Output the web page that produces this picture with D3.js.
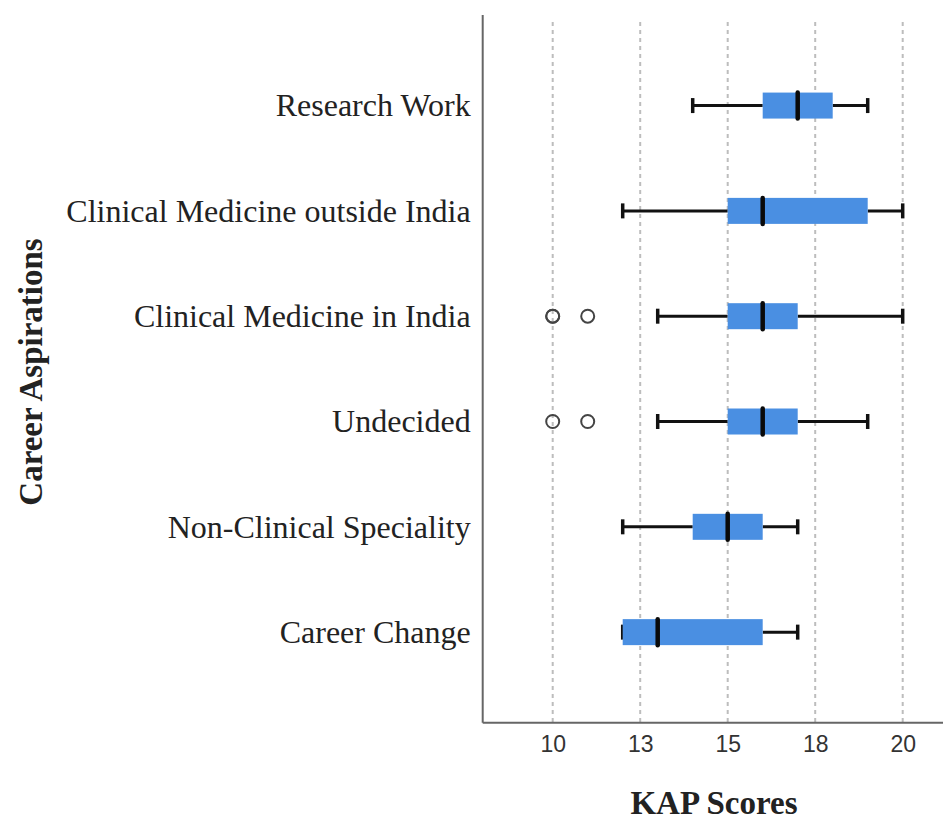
<!DOCTYPE html>
<html>
<head>
<meta charset="utf-8">
<script src="https://cdn.jsdelivr.net/npm/d3@7"></script>
<style>
  html, body { margin: 0; padding: 0; background: #fff; }
  svg { display: block; }
</style>
</head>
<body>
<svg id="chart" width="943" height="821"></svg>
<script>
// ---- Data ----
const categories = ["Research Work", "Clinical Medicine outside India", "Clinical Medicine in India",
                    "Undecided", "Non-Clinical Speciality", "Career Change"];
const whiskerLow  = [14, 12, 13, 13, 12, 12];
const q1          = [16, 15, 15, 15, 14, 12];
const medians     = [17, 16, 16, 16, 15, 13];
const q3          = [18, 19, 17, 17, 16, 16];
const whiskerHigh = [19, 20, 20, 19, 17, 17];
const outliers    = [[], [], [10, 10, 11], [10, 11], [], []];
const tickValues  = [10, 12.5, 15, 17.5, 20];
const tickLabels  = ["10", "13", "15", "18", "20"];
const xTitle = "KAP Scores";
const yTitle = "Career Aspirations";

// ---- Layout ----
const svg = d3.select("#chart");
const pLeft = 482.7, pRight = 937.7, pTop = 15, pBottom = 722.7;

const x = d3.scaleLinear().domain([8, 21]).range([pLeft, pRight]);
const y = d3.scalePoint().domain(categories).range([pTop, pBottom]).padding(0.86);

const boxH = 26, capH = 15;

// gridlines
svg.append("g").selectAll("line").data(tickValues).join("line")
  .attr("x1", d => x(d)).attr("x2", d => x(d))
  .attr("y1", 22).attr("y2", pBottom)
  .attr("stroke", "#bdbdbd").attr("stroke-width", 2)
  .attr("stroke-dasharray", "4,4");

// x axis
const xAxis = d3.axisBottom(x).tickValues(tickValues)
  .tickFormat((d, i) => tickLabels[i]).tickSize(0).tickPadding(13);
const gx = svg.append("g").attr("transform", `translate(0,${pBottom})`).call(xAxis);
gx.select(".domain").remove();
gx.selectAll("text").attr("font-family", "Liberation Sans, Arial, sans-serif")
  .attr("font-size", 23).attr("fill", "#333");

// y axis
const yAxis = d3.axisLeft(y).tickSize(0).tickPadding(12);
const gy = svg.append("g").attr("transform", `translate(${pLeft},0)`).call(yAxis);
gy.select(".domain").remove();
gy.selectAll("text").attr("font-family", "Liberation Serif, Times New Roman, serif")
  .attr("font-size", 32).attr("fill", "#222");

// axis lines
svg.append("line").attr("x1", pLeft).attr("x2", pLeft).attr("y1", pTop).attr("y2", pBottom)
  .attr("stroke", "#666").attr("stroke-width", 2);
svg.append("line").attr("x1", pLeft).attr("x2", pRight + 6).attr("y1", pBottom).attr("y2", pBottom)
  .attr("stroke", "#666").attr("stroke-width", 2);

// boxes
const rows = categories.map((c, i) => ({
  c, lo: whiskerLow[i], q1: q1[i], med: medians[i], q3: q3[i], hi: whiskerHigh[i], out: outliers[i]
}));
const g = svg.append("g");
const row = g.selectAll("g.row").data(rows).join("g").attr("class", "row")
  .attr("transform", d => `translate(0,${y(d.c)})`);

// whiskers
row.append("line").attr("x1", d => x(d.lo)).attr("x2", d => x(d.q1))
  .attr("y1", 0).attr("y2", 0).attr("stroke", "#111").attr("stroke-width", 3);
row.append("line").attr("x1", d => x(d.q3)).attr("x2", d => x(d.hi))
  .attr("y1", 0).attr("y2", 0).attr("stroke", "#111").attr("stroke-width", 3);
row.append("line").attr("x1", d => x(d.lo)).attr("x2", d => x(d.lo))
  .attr("y1", -capH / 2).attr("y2", capH / 2).attr("stroke", "#111").attr("stroke-width", 3.5);
row.append("line").attr("x1", d => x(d.hi)).attr("x2", d => x(d.hi))
  .attr("y1", -capH / 2).attr("y2", capH / 2).attr("stroke", "#111").attr("stroke-width", 3.5);

// box
row.append("rect").attr("x", d => x(d.q1)).attr("width", d => x(d.q3) - x(d.q1))
  .attr("y", -boxH / 2).attr("height", boxH).attr("fill", "#4a8fe2");

// median
row.append("line").attr("x1", d => x(d.med)).attr("x2", d => x(d.med))
  .attr("y1", -boxH / 2).attr("y2", boxH / 2).attr("stroke", "#0a0a0a").attr("stroke-width", 4.5)
  .attr("stroke-linecap", "round");

// outliers
row.selectAll("circle").data(d => d.out).join("circle")
  .attr("cx", d => x(d)).attr("cy", 0).attr("r", 6.5)
  .attr("fill", "none").attr("stroke", "#444").attr("stroke-width", 2);

// titles
svg.append("text").attr("x", 714).attr("y", 814)
  .attr("text-anchor", "middle").attr("font-family", "Liberation Serif, Times New Roman, serif")
  .attr("font-weight", "bold").attr("font-size", 33).attr("fill", "#222").text(xTitle);
svg.append("text").attr("transform", "translate(42,372) rotate(-90)")
  .attr("text-anchor", "middle").attr("font-family", "Liberation Serif, Times New Roman, serif")
  .attr("font-weight", "bold").attr("font-size", 33).attr("fill", "#222").text(yTitle);
</script>
</body>
</html>
